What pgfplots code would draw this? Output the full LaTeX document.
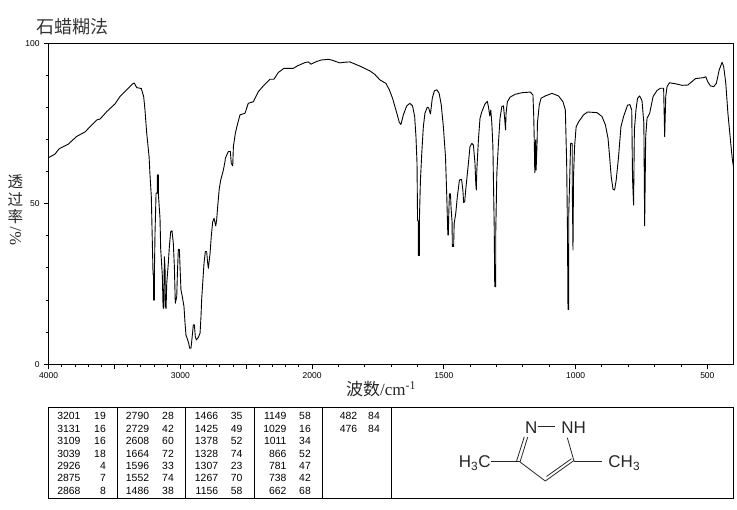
\documentclass[border=0pt]{standalone}
\usepackage{pgfplots}
\pgfplotsset{compat=1.18}
\usepackage{fontspec}
\setmainfont{Liberation Sans}
\newfontfamily\cjk{Noto Sans CJK SC}
\newfontfamily\serif{Liberation Serif}
\begin{document}
\begin{tikzpicture}[x=1pt,y=1pt,line width=1pt]
\path (0,0) rectangle (737,510);
\begin{axis}[
  at={(48.7pt,145.7pt)},anchor=south west,
  scale only axis,width=685pt,height=321pt,
  x coord trafo/.code={\pgfmathparse{#1>=2000?(4000-#1)/2:3000-#1}},
  xmin=4000,xmax=400,ymin=0,ymax=100,
  axis line style={line width=1pt},
  xtick={4000,3500,3000,2500,2000,1500,1000,500},
  xticklabels={4000,,3000,,2000,1500,1000,500},
  ytick={0,50,100},
  extra x ticks={3900,3800,3700,3600,3400,3300,3200,3100,2900,2800,2700,2600,2400,2300,2200,2100,1900,1800,1700,1600,1400,1300,1200,1100,900,800,700,600},
  extra x tick labels={},
  extra x tick style={major tick length=3pt},
  extra y ticks={10,20,30,40,60,70,80,90},
  extra y tick labels={},
  extra y tick style={major tick length=3pt},
  tick style={black,line width=1pt},
  tick align=outside,tickpos=left,
  major tick length=5pt,
  tick label style={font=\fontsize{8.5}{9}\selectfont,inner sep=0pt},
  xticklabel style={yshift=-3pt},
  yticklabel style={xshift=-4pt},
  /pgf/number format/assume math mode=true,
  /pgf/number format/1000 sep={},
]
\addplot[black,line width=0.9pt,line join=round] coordinates {
(4000,64.4)(3952,65.5)(3922,67.1)(3851,68.6)(3787,71.0)(3724,72.4)(3686,74.0)(3636,76.1)(3610,76.4)(3560,78.7)
(3497,81.1)(3459,83.4)(3408,85.5)(3365,87.3)(3350,87.6)(3332,86.2)(3297,85.9)(3279,83.4)(3269,79.2)(3256,72.0)
(3238,64.7)(3231,59.0)(3221,52.2)(3216,42.9)(3208,28.3)(3203,27.3)(3203,20.0)(3198,20.0)(3198,27.3)(3193,40.8)
(3185,53.3)(3175,53.3)(3175,59.0)(3168,59.0)(3168,53.3)(3155,45.5)(3150,36.1)(3137,27.3)(3132,18.0)(3127,17.4)
(3122,33.5)(3117,30.4)(3114,18.0)(3109,17.4)(3104,25.2)(3092,31.5)(3084,36.7)(3074,41.3)(3064,41.6)(3054,37.7)
(3046,30.4)(3039,19.0)(3028,21.1)(3023,28.3)(3016,35.8)(3008,35.8)(3003,30.4)(2996,23.2)(2986,21.1)(2973,18.0)
(2965,12.8)(2958,9.1)(2945,7.6)(2937,6.5)(2930,5.0)(2920,5.0)(2912,8.1)(2902,12.3)(2894,12.3)(2887,8.6)
(2879,7.6)(2864,8.4)(2851,9.7)(2844,14.8)(2839,20.0)(2831,25.2)(2821,31.5)(2811,35.1)(2801,35.1)(2793,31.5)
(2788,29.9)(2775,34.6)(2765,40.3)(2755,44.4)(2745,45.5)(2732,43.1)(2725,45.0)(2715,50.2)(2705,54.8)(2694,57.4)
(2674,60.5)(2662,63.1)(2659,64.2)(2636,66.3)(2621,66.3)(2614,62.6)(2603,61.8)(2598,67.8)(2583,72.0)(2568,74.6)
(2548,77.7)(2510,78.2)(2485,81.3)(2447,81.8)(2409,84.9)(2371,86.7)(2320,88.8)(2290,88.8)(2257,90.9)(2214,92.2)
(2143,92.2)(2110,93.0)(2054,94.0)(2029,94.2)(2009,93.5)(1984,94.3)(1965,94.8)(1939,95.0)(1927,94.8)(1895,93.9)
(1876,94.1)(1857,94.2)(1819,92.9)(1781,91.4)(1762,90.3)(1743,88.6)(1720,87.5)(1707,85.5)(1695,82.9)(1682,79.2)
(1669,75.3)(1663,74.7)(1654,77.7)(1641,80.5)(1629,81.3)(1619,80.5)(1611,77.2)(1606,70.9)(1602,62.6)(1600,45.0)
(1597,44.4)(1597,33.9)(1593,33.9)(1593,45.0)(1589,57.4)(1584,65.7)(1578,74.0)(1572,78.2)(1563,80.1)(1558,79.9)
(1551,78.0)(1544,82.9)(1536,85.2)(1527,85.5)(1518,84.4)(1510,80.8)(1502,74.0)(1494,64.7)(1489,52.2)(1487,46.0)
(1485,40.3)(1483,40.3)(1482,45.5)(1479,53.1)(1475,53.1)(1473,49.1)(1469,44.4)(1468,36.7)(1463,36.7)(1461,43.9)
(1455,47.0)(1449,52.2)(1441,57.4)(1433,57.6)(1428,54.3)(1425,50.4)(1421,50.7)(1416,55.3)(1407,62.6)(1401,67.8)
(1394,68.8)(1388,68.3)(1382,62.6)(1379,56.4)(1377,54.3)(1375,60.5)(1369,69.9)(1363,76.6)(1356,78.7)(1344,81.1)
(1335,81.9)(1330,79.8)(1326,77.4)(1322,79.2)(1318,75.1)(1314,67.8)(1312,57.4)(1309,42.9)(1307,24.2)(1303,24.2)
(1303,41.8)(1299,59.5)(1293,68.8)(1287,76.6)(1280,80.3)(1274,80.5)(1270,77.2)(1266,73.0)(1264,78.2)(1259,81.8)
(1249,83.2)(1230,84.1)(1204,84.6)(1172,84.8)(1162,83.9)(1159,77.2)(1157,69.9)(1155,59.7)(1152,69.9)(1150,60.5)
(1146,69.9)(1145,75.1)(1138,80.8)(1131,82.9)(1115,83.6)(1090,84.4)(1065,83.6)(1048,81.8)(1039,79.2)(1034,62.6)
(1031,41.8)(1029,17.1)(1026,17.1)(1026,47.0)(1021,62.6)(1019,68.8)(1013,68.8)(1013,57.4)(1010,35.6)(1008,58.5)
(1004,67.8)(998,74.0)(988,75.6)(970,77.7)(955,78.6)(919,78.4)(900,77.2)(887,74.6)(877,70.4)(871,64.7)
(865,58.5)(858,54.5)(852,54.3)(846,57.4)(837,64.7)(828,74.0)(818,77.2)(803,80.7)(794,80.9)(787,79.2)
(784,57.9)(780,49.6)(777,73.0)(771,79.2)(765,82.9)(757,83.6)(748,82.1)(741,75.1)(738,43.1)(734,70.9)
(729,76.6)(719,78.2)(706,83.4)(691,85.3)(678,86.0)(666,86.0)(662,70.9)(658,83.4)(653,86.5)(644,87.7)
(621,87.4)(596,86.9)(574,87.0)(545,89.0)(514,89.3)(506,89.6)(499,88.1)(488,86.7)(476,86.5)(466,87.5)
(455,91.7)(444,94.1)(438,92.7)(430,87.5)(422,78.2)(416,73.0)(410,67.8)(405,63.7)(400,61.1)
};
\end{axis}
% titles
\node[font=\cjk\fontsize{18}{18}\selectfont,text=black!80] at (72,483) {石蜡糊法};
\node[font=\cjk\fontsize{15.5}{16}\selectfont,text=black!85,inner sep=0pt] at (15.5,328) {透};
\node[font=\cjk\fontsize{15.5}{16}\selectfont,text=black!85,inner sep=0pt] at (15.5,310.5) {过};
\node[font=\cjk\fontsize{15.5}{16}\selectfont,text=black!85,inner sep=0pt] at (15.5,293.5) {率};
\node[font=\serif\fontsize{16.5}{16.5}\selectfont,text=black!85,rotate=90,inner sep=0pt] at (15.5,274) {\%/};
\node[font=\fontsize{17}{17}\selectfont,text=black!85,inner sep=0pt] at (381,121) {{\cjk 波数}{\serif /cm\textsuperscript{-1}}};
% peak table
\draw[line width=1pt] (48,11) rectangle (733.5,102.7);
\foreach \x in {117.3,185.3,254.3,322.3,391.7} \draw[line width=1pt] (\x,11) -- (\x,102.7);
\def\rowy{{94,81,68.7,56.3,44,31.7,19.3}}
\foreach \xa/\xb/\vals in {
 80.7/106/{3201/19,3131/16,3109/16,3039/18,2926/4,2875/7,2868/8},
 149.3/174/{2790/28,2729/42,2608/60,1664/72,1596/33,1552/74,1486/38},
 218.3/242.7/{1466/35,1425/49,1378/52,1328/74,1307/23,1267/70,1156/58},
 286.7/311/{1149/58,1029/16,1011/34,866/52,781/47,738/42,662/68},
 357.3/380/{482/84,476/84}}{
  \foreach \a/\b [count=\i from 0] in \vals {
    \pgfmathsetmacro{\yy}{\rowy[\i]}
    \node[anchor=east,inner sep=0pt,font=\fontsize{10.4}{11}\selectfont] at (\xa,\yy) {\a};
    \node[anchor=east,inner sep=0pt,font=\fontsize{10.4}{11}\selectfont] at (\xb,\yy) {\b};
  }
}
% structure
\begin{scope}[line width=0.8pt,black!85]
\draw (537.7,83.3) -- (555,83.3);
\draw (567.3,72.3) -- (574,49);
\draw (527.7,73) -- (520,48);
\draw (524.3,73.3) -- (516.6,49);
\draw (520,48) -- (545.3,29);
\draw (545.3,29) -- (574,49.5);
\draw (546.5,33.5) -- (571.5,51.3);
\draw (491,49) -- (520,49);
\draw (574,49) -- (601.7,49);
\end{scope}
\node[font=\fontsize{17}{17}\selectfont,inner sep=0pt,text=black!85,anchor=base] at (531.3,76.3) {N};
\node[font=\fontsize{17}{17}\selectfont,inner sep=0pt,text=black!85,anchor=base] at (573.7,76.3) {NH};
\node[font=\fontsize{17}{17}\selectfont,inner sep=0pt,text=black!85,anchor=base] at (474.7,42.3) {H\textsubscript{3}C};
\node[font=\fontsize{17}{17}\selectfont,inner sep=0pt,text=black!85,anchor=base] at (624.3,42.3) {CH\textsubscript{3}};
\end{tikzpicture}
\end{document}
